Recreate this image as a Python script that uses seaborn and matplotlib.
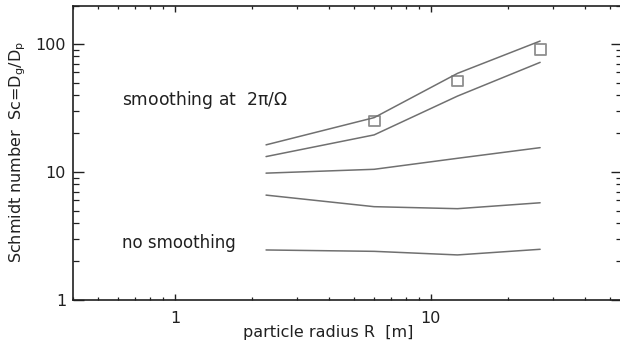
import numpy as np
import pandas as pd
import matplotlib
matplotlib.use("Agg")
import matplotlib.pyplot as plt
import seaborn as sns
from matplotlib.ticker import LogLocator, NullFormatter, FixedLocator, FixedFormatter

# Data
radius = [2.27, 6.0, 12.7, 26.7]
sc_line1 = [16.3, 26.6, 59.0, 105.5]
sc_line2 = [13.2, 19.5, 39.2, 71.9]
sc_line3 = [9.8, 10.5, 12.8, 15.5]
sc_line4 = [6.6, 5.36, 5.17, 5.75]
sc_line5 = [2.46, 2.40, 2.25, 2.49]
square_radius = [6.0, 12.7, 26.7]
square_sc = [25.0, 51.4, 90.9]

series = {"l1": sc_line1, "l2": sc_line2, "l3": sc_line3, "l4": sc_line4, "l5": sc_line5}
rows = []
for name, vals in series.items():
    for r, v in zip(radius, vals):
        rows.append({"R": r, "Sc": v, "run": name})
df = pd.DataFrame(rows)
sq = pd.DataFrame({"R": square_radius, "Sc": square_sc})

sns.set_style("ticks")
plt.rcParams["font.family"] = ["DejaVu Sans"]

fig = plt.figure(figsize=(6.2, 3.5), dpi=100)
W, H = 620.0, 350.0
left, right, top, bottom = 73.0, 622.5, 5.5, 300.0
ax = fig.add_axes([left / W, 1 - bottom / H, (right - left) / W, (bottom - top) / H])

gray = "#707070"
sns.lineplot(data=df, x="R", y="Sc", units="run", estimator=None, color=gray,
             linewidth=1.1, ax=ax, legend=False, sort=False)
sns.scatterplot(data=sq, x="R", y="Sc", marker="s", s=60, facecolor="none",
                edgecolor="#8f8f8f", linewidth=1.3, ax=ax, legend=False)

ax.set_xscale("log")
ax.set_yscale("log")
ax.set_xlim(0.4, 56)
ax.set_ylim(1, 200)

for s in ax.spines.values():
    s.set_color("#202020")
    s.set_linewidth(1.2)

ax.xaxis.set_major_locator(FixedLocator([1, 10]))
ax.xaxis.set_major_formatter(FixedFormatter(["1", "10"]))
ax.xaxis.set_minor_locator(LogLocator(base=10, subs=np.arange(2, 10)))
ax.xaxis.set_minor_formatter(NullFormatter())
ax.yaxis.set_major_locator(FixedLocator([1, 10, 100]))
ax.yaxis.set_major_formatter(FixedFormatter(["1", "10", "100"]))
ax.yaxis.set_minor_locator(LogLocator(base=10, subs=np.arange(2, 10)))
ax.yaxis.set_minor_formatter(NullFormatter())

ax.tick_params(axis="x", which="major", direction="in", length=4.5, width=1.0,
               top=True, bottom=True, labelsize=11.5, pad=8, colors="#202020")
ax.tick_params(axis="x", which="minor", direction="in", length=2.3, width=0.9,
               top=True, bottom=True, colors="#202020")
ax.tick_params(axis="y", which="major", direction="in", length=8, width=1.0,
               left=True, right=True, labelsize=11.5, pad=5, colors="#202020")
ax.tick_params(axis="y", which="minor", direction="in", length=4, width=0.9,
               left=True, right=True, colors="#202020")

ax.set_xlabel("")
ax.set_ylabel("")
fig.text(328 / W, 1 - 332 / H, "particle radius R  [m]", ha="center", va="center",
         fontsize=11.5, color="#202020")
fig.text(18 / W, 1 - 152 / H, r"Schmidt number  Sc=D$_\mathregular{g}$/D$_\mathregular{p}$",
         rotation=90, ha="center", va="center", fontsize=11.5, color="#202020")

ax.text(0.089, 0.679, r"smoothing at  2$\mathregular{\pi/\Omega}$", transform=ax.transAxes,
        ha="left", va="center", fontsize=12.3, color="#202020")
ax.text(0.089, 0.194, "no smoothing", transform=ax.transAxes,
        ha="left", va="center", fontsize=12.0, color="#202020")

fig.savefig("out.png", dpi=100)
